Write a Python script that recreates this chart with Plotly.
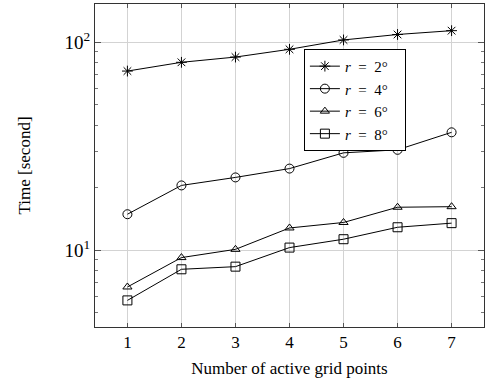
import plotly.graph_objects as go

x_points = [1, 2, 3, 4, 5, 6, 7]
r2 = [72.7, 80.1, 84.9, 92.5, 102.6, 109.0, 113.7]
r4 = [14.9, 20.5, 22.4, 24.7, 29.4, 30.4, 36.9]
r6 = [6.66, 9.22, 10.1, 12.8, 13.6, 16.1, 16.2]
r8 = [5.74, 8.1, 8.34, 10.3, 11.3, 12.9, 13.5]
NB = "\u00a0"
series_names = [f"<i>r</i>{NB}{NB}={NB}{NB}{d}°{NB}{NB}{NB}" for d in (2, 4, 6, 8)]
series_values = [r2, r4, r6, r8]
symbols = ["asterisk-open", "circle-open", "triangle-up-open", "square-open"]
sizes = [9, 9, 8, 9]

y_major = [10, 100]
y_major_text = ["10<sup>1</sup>", "10<sup>2</sup>"]
y_minor = [5, 6, 7, 8, 9, 20, 30, 40, 50, 60, 70, 80, 90]

FONT = "Liberation Serif"

fig = go.Figure()
for name, vals, sym, sz in zip(series_names, series_values, symbols, sizes):
    fig.add_trace(go.Scatter(
        x=x_points, y=vals, name=name, mode="lines+markers",
        line=dict(color="black", width=1),
        marker=dict(symbol=sym, size=sz, color="black", line=dict(color="black", width=1)),
    ))

fig.update_layout(
    width=487, height=390,
    margin=dict(l=95, r=3, t=4, b=63, autoexpand=False),
    paper_bgcolor="white", plot_bgcolor="white",
    font=dict(family=FONT, size=16, color="black"),
    showlegend=True,
    legend=dict(
        x=0.537, y=0.861, xanchor="left", yanchor="top",
        bgcolor="white", bordercolor="black", borderwidth=1,
        font=dict(family=FONT, size=15, color="black"),
        tracegroupgap=0, itemwidth=30,
    ),
)

fig.update_xaxes(
    range=[0.4, 7.6], automargin=False,
    tickvals=x_points, ticktext=[str(v) for v in x_points],
    ticks="inside", ticklen=4, tickcolor="#555", mirror="allticks",
    showline=True, linecolor="#333", linewidth=1,
    showgrid=True, gridcolor="#d3d3d3", gridwidth=1,
    zeroline=False,
    tickfont=dict(family=FONT, size=17),
    title=dict(text="Number of active grid points", font=dict(family=FONT, size=17), standoff=10),
)

fig.update_yaxes(
    type="log", automargin=False,
    range=[0.631, 2.184],
    tickvals=y_major, ticktext=y_major_text,
    ticks="inside", ticklen=6, tickcolor="#555", mirror="allticks",
    showline=True, linecolor="#333", linewidth=1,
    showgrid=True, gridcolor="#d3d3d3", gridwidth=1,
    zeroline=False,
    minor=dict(tickvals=y_minor, ticks="inside", ticklen=3, tickcolor="#777", showgrid=False),
    tickfont=dict(family=FONT, size=19),
    title=dict(text="Time [second]", font=dict(family=FONT, size=17), standoff=29),
)

fig.write_html("out.html", config={"displayModeBar": False},
               post_script="document.body.style.margin='0';")
